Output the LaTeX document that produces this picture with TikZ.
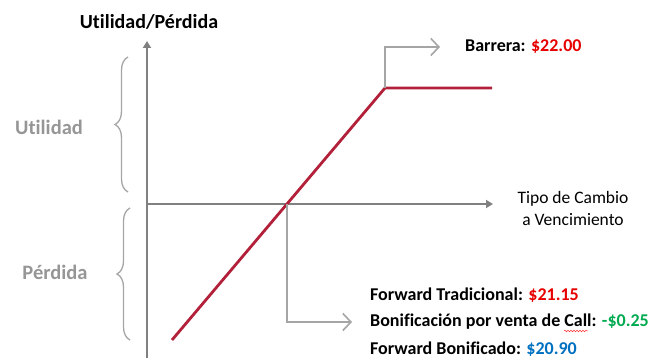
\documentclass[tikz,border=0pt]{standalone}
\usepackage{fontspec}
\setmainfont{Carlito}[Ligatures = NoCommon]
\usetikzlibrary{arrows.meta,decorations.pathreplacing,decorations.pathmorphing,positioning}
\definecolor{gris}{RGB}{128,128,128}
\definecolor{grisclaro}{RGB}{165,165,165}
\definecolor{grisletra}{RGB}{150,150,150}
\definecolor{vino}{RGB}{178,32,58}
\definecolor{rojo}{RGB}{230,0,0}
\definecolor{verde}{RGB}{0,170,80}
\definecolor{azul}{RGB}{0,112,192}

\begin{document}
\begin{tikzpicture}[x=1pt, y=-1pt,
eje/.style = {draw = gris, line width = 2.6pt, -{Triangle[length = 7pt, width = 8pt]}},
pago/.style = {draw = vino, line width = 2.8pt},
guia/.style = {draw = grisclaro, line width = 1.6pt, -{Straight Barb[length = 8pt, width = 17pt]}},
llave/.style = {draw = grisclaro, line width = 1.3pt, decorate, decoration = {brace, amplitude = 13pt}},
zona/.style = {text = grisletra, font = \fontsize{20.5}{24}\selectfont\bfseries},
dato/.style = {font = \fontsize{18}{21}\selectfont\bfseries, inner sep = 0pt, anchor = west}]
\useasboundingbox (0,0) rectangle (665,358);
\coordinate (0) at (147,204);
\coordinate (1) at (147,358);
\coordinate (2) at (147,41);
\coordinate (3) at (493,204);
\coordinate (4) at (172,340);
\coordinate (5) at (385,88);
\coordinate (6) at (492,88);
\coordinate (7) at (287,204);
\node[font = \fontsize{20}{24}\selectfont\bfseries] (10) at (149,22) {Utilidad/Pérdida};
\node[zona] (11) at (49,127) {Utilidad};
\node[zona] (12) at (55,272) {Pérdida};
\node[font = \fontsize{17.5}{21}\selectfont, align = center, inner sep = 0pt] (13) at (573,208) {Tipo de Cambio\\[1pt]a Vencimiento};
\node[dato] (14) at (465,47) {Barrera: \textcolor{rojo}{\$22.00}};
\node[dato] (15) at (370,295) {Forward Tradicional: \textcolor{rojo}{\$21.15}};
\node[dato] (16) at (370,322) {Bonificación por venta de Call: \textcolor{verde}{-\$0.25}};
\node[dato] (17) at (370,349) {Forward Bonificado: \textcolor{azul}{\$20.90}};
\draw[eje] (1) -- (2);
\draw[eje] (0) -- (3);
\draw[llave] (128,192) -- (128,57);
\draw[llave] (130,340) -- (130,208);
\draw[pago] (4) -- (5) -- (6);
\draw[guia] (7) |- ([xshift = -18pt]16.west);
\draw[guia] (5) |- ([xshift = -25pt]14.west);
\draw[red!80, line width = 0.5pt, decorate, decoration = {snake, amplitude = 0.8pt, segment length = 3pt}] ([xshift = 194pt, yshift = -9pt]16.west) -- ++(24,0);
\end{tikzpicture}
\end{document}
